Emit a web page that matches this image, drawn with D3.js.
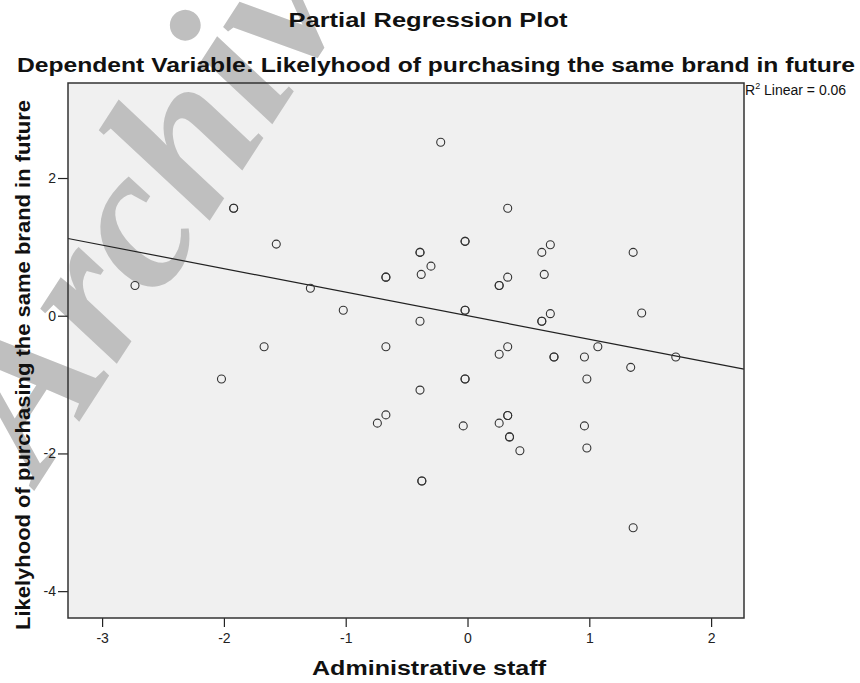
<!DOCTYPE html>
<html>
<head>
<meta charset="utf-8">
<script src="https://cdn.jsdelivr.net/npm/d3@7"></script>
<style>
    body { margin: 0; background: #fff; }
</style>
</head>
<body>
<div id="chart"></div>
<script>
// partial residuals (repeated pairs = overlapping circles)
const xValues = [-2.73, -2.02, -1.92, -1.92, -1.67, -1.57, -1.29, -1.02, -0.74, -0.67,
                 -0.67, -0.67, -0.67, -0.39, -0.39, -0.38, -0.30, -0.39, -0.39, -0.375,
                 -0.375, -0.22, -0.02, -0.02, -0.02, -0.02, -0.02, -0.02, -0.035, 0.26,
                 0.26, 0.26, 0.26, 0.33, 0.33, 0.33, 0.33, 0.33, 0.345, 0.345,
                 0.43, 0.61, 0.63, 0.68, 0.68, 0.61, 0.61, 0.71, 0.71, 0.96,
                 0.98, 0.96, 0.98, 1.07, 1.36, 1.43, 1.34, 1.36, 1.71];
const yValues = [0.44, -0.92, 1.56, 1.56, -0.45, 1.04, 0.40, 0.08, -1.56, 0.56,
                 0.56, -0.45, -1.44, 0.92, 0.92, 0.60, 0.72, -0.08, -1.08, -2.40,
                 -2.40, 2.52, 1.08, 1.08, 0.08, 0.08, -0.92, -0.92, -1.60, 0.44,
                 0.44, -0.56, -1.56, 1.56, 0.56, -0.45, -1.45, -1.45, -1.76, -1.76,
                 -1.96, 0.92, 0.60, 1.03, 0.03, -0.08, -0.08, -0.60, -0.60, -0.60,
                 -0.92, -1.60, -1.92, -0.45, 0.92, 0.04, -0.75, -3.08, -0.60];

const xTicks = [-3, -2, -1, 0, 1, 2];
const yTicks = [2, 0, -2, -4];
const xDomain = [-3.28, 2.27];
const yDomain = [-4.39, 3.38];

// fit line through the origin
const fitSlope = -0.342;
const rSquared = "0.06";

const titleText = "Partial Regression Plot";
const subtitleText = "Dependent Variable: Likelyhood of purchasing the same brand in future";
const xLabel = "Administrative staff";
const yLabel = "Likelyhood of purchasing the same brand in future";

const sansFont = "Arial, 'Liberation Sans', sans-serif";

class ScatterVis {

    constructor(parentElement) {
        this.parentElement = parentElement;
        this.data = xValues.map((x, i) => ({x: x, y: yValues[i]}));
        this.initVis();
    }

    initVis() {
        let vis = this;

        vis.margin = {top: 83, right: 116, bottom: 65, left: 68};
        vis.width = 860 - vis.margin.left - vis.margin.right;
        vis.height = 683 - vis.margin.top - vis.margin.bottom;

        vis.root = d3.select("#" + vis.parentElement).append("svg")
            .attr("width", 860)
            .attr("height", 683)
            .style("font-family", sansFont);

        vis.root.append("rect")
            .attr("width", 860).attr("height", 683)
            .attr("fill", "#fff");

        // plot background first, so the watermark can sit over it but under the marks
        vis.root.append("rect")
            .attr("x", vis.margin.left).attr("y", vis.margin.top)
            .attr("width", vis.width)
            .attr("height", vis.height)
            .attr("fill", "#f0f0f0");

        vis.root.append("text")
            .attr("transform", "translate(40,482) rotate(-57)")
            .style("font-family", "'Liberation Serif', 'DejaVu Serif', serif")
            .style("font-style", "italic")
            .style("font-weight", "bold")
            .style("font-size", "205px")
            .attr("fill", "#bfbfbf")
            .text("Archive");

        vis.svg = vis.root.append("g")
            .attr("transform", "translate(" + vis.margin.left + "," + vis.margin.top + ")");

        vis.x = d3.scaleLinear().domain(xDomain).range([0, vis.width]);
        vis.y = d3.scaleLinear().domain(yDomain).range([vis.height, 0]);

        vis.updateVis();
    }

    updateVis() {
        let vis = this;

        // axes
        let xAxis = d3.axisBottom(vis.x).tickValues(xTicks).tickSize(9).tickPadding(6)
            .tickFormat(d => String(d));
        let yAxis = d3.axisLeft(vis.y).tickValues(yTicks).tickSize(10).tickPadding(2)
            .tickFormat(d => String(d));

        let gx = vis.svg.append("g")
            .attr("transform", "translate(0," + vis.height + ")")
            .call(xAxis);
        let gy = vis.svg.append("g").call(yAxis);

        [gx, gy].forEach(g => {
            g.select(".domain").remove();
            g.selectAll(".tick line").attr("stroke", "#222").attr("stroke-width", 1.2);
            g.selectAll(".tick text")
                .attr("fill", "#222")
                .style("font-size", "14px")
                .style("font-family", sansFont);
        });

        // regression line
        vis.svg.append("line")
            .attr("x1", vis.x(xDomain[0])).attr("y1", vis.y(fitSlope * xDomain[0]))
            .attr("x2", vis.x(xDomain[1])).attr("y2", vis.y(fitSlope * xDomain[1]))
            .attr("stroke", "#222")
            .attr("stroke-width", 1.2);

        // points
        vis.svg.append("g")
            .selectAll("circle")
            .data(vis.data)
            .enter()
            .append("circle")
            .attr("cx", d => vis.x(d.x))
            .attr("cy", d => vis.y(d.y))
            .attr("r", 4)
            .attr("fill", "none")
            .attr("stroke", "#333")
            .attr("stroke-width", 1.1);

        // frame
        vis.svg.append("rect")
            .attr("width", vis.width)
            .attr("height", vis.height)
            .attr("fill", "none")
            .attr("stroke", "#333")
            .attr("stroke-width", 1.5);

        // titles (stretched to the widths in the picture)
        vis.root.append("text")
            .attr("x", 428).attr("y", 27)
            .attr("text-anchor", "middle")
            .attr("textLength", 279)
            .attr("lengthAdjust", "spacingAndGlyphs")
            .style("font-weight", "bold")
            .style("font-size", "20px")
            .attr("fill", "#111")
            .text(titleText);

        vis.root.append("text")
            .attr("x", 436).attr("y", 72)
            .attr("text-anchor", "middle")
            .attr("textLength", 838)
            .attr("lengthAdjust", "spacingAndGlyphs")
            .style("font-weight", "bold")
            .style("font-size", "20px")
            .attr("fill", "#111")
            .text(subtitleText);

        let r2 = vis.root.append("text")
            .attr("x", vis.margin.left + vis.width + 1)
            .attr("y", vis.margin.top + 12)
            .style("font-size", "14px")
            .attr("fill", "#111");
        r2.append("tspan").text("R");
        r2.append("tspan").style("font-size", "9px").attr("dy", -6).text("2");
        r2.append("tspan").attr("dy", 6).text(" Linear = " + rSquared);

        // axis titles
        vis.root.append("text")
            .attr("x", 429)
            .attr("y", 675)
            .attr("text-anchor", "middle")
            .attr("textLength", 234)
            .attr("lengthAdjust", "spacingAndGlyphs")
            .style("font-weight", "bold")
            .style("font-size", "20px")
            .attr("fill", "#111")
            .text(xLabel);

        vis.root.append("text")
            .attr("transform", "translate(30,365) rotate(-90)")
            .attr("text-anchor", "middle")
            .attr("textLength", 530)
            .attr("lengthAdjust", "spacingAndGlyphs")
            .style("font-weight", "bold")
            .style("font-size", "20px")
            .attr("fill", "#111")
            .text(yLabel);
    }
}

new ScatterVis("chart");
</script>
</body>
</html>
